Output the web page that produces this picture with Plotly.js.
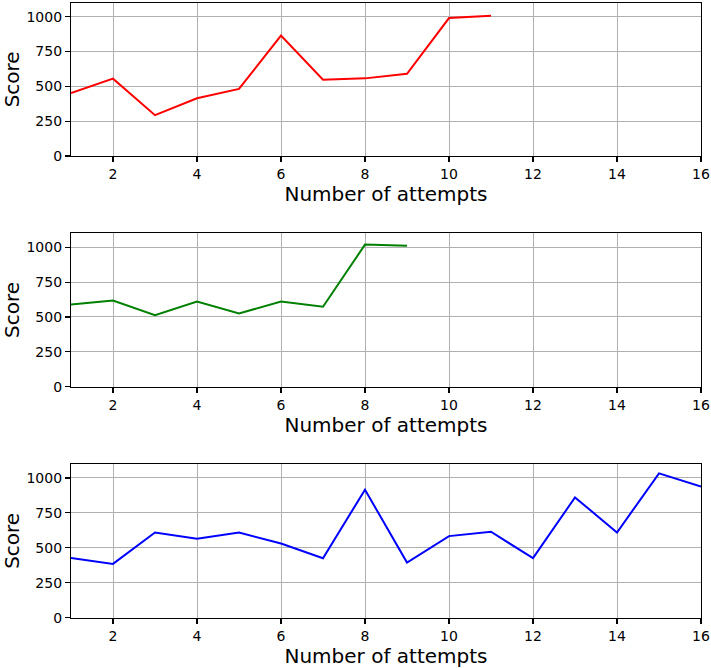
<!DOCTYPE html>
<html>
<head>
<meta charset="utf-8">
<script src="https://cdn.plot.ly/plotly-3.0.1.min.js"></script>
<style>html,body{margin:0;padding:0;background:#fff;}#chart{width:711px;height:668px;}</style>
</head>
<body>
<div id="chart"></div>
<script>
// Data
const attemptsRed = [1, 2, 3, 4, 5, 6, 7, 8, 9, 10, 11];
const scoresRed = [452, 555, 293, 414, 481, 864, 548, 557, 590, 990, 1007];

const attemptsGreen = [1, 2, 3, 4, 5, 6, 7, 8, 9];
const scoresGreen = [589, 618, 513, 611, 525, 611, 573, 1019, 1010];

const attemptsBlue = [1, 2, 3, 4, 5, 6, 7, 8, 9, 10, 11, 12, 13, 14, 15, 16];
const scoresBlue = [428, 385, 610, 565, 610, 531, 426, 916, 395, 584, 615, 426, 861, 610, 1033, 938];

const xTicks = [2, 4, 6, 8, 10, 12, 14, 16];
const yTicks = [0, 250, 500, 750, 1000];
const xTitle = "Number of attempts";
const yTitle = "Score";

const H = 668;
const FONT = "DejaVu Sans, sans-serif";

function line(x, y, color, xa, ya) {
  return {x: x, y: y, type: "scatter", mode: "lines", xaxis: xa, yaxis: ya,
          line: {color: color, width: 2}, hoverinfo: "skip", showlegend: false};
}

function xAxis(anchor) {
  return {
    anchor: anchor, domain: [0, 1], range: [1, 16], tickvals: xTicks,
    ticktext: xTicks.map(String),
    showgrid: true, gridcolor: "#b0b0b0", gridwidth: 1,
    showline: true, linecolor: "#000", linewidth: 1.1, mirror: true,
    ticks: "outside", ticklen: 5, tickwidth: 1.1, tickcolor: "#000",
    tickfont: {family: FONT, size: 14, color: "#000"},
    zeroline: false, automargin: false,
    title: {text: xTitle, font: {family: FONT, size: 20, color: "#000"}, standoff: 3}
  };
}
function yAxis(anchor, top, bottom) {
  return {
    anchor: anchor, domain: [1 - bottom / H, 1 - top / H], range: [0, 1100],
    tickvals: yTicks, ticktext: yTicks.map(String),
    showgrid: true, gridcolor: "#b0b0b0", gridwidth: 1,
    showline: true, linecolor: "#000", linewidth: 1.1, mirror: true,
    ticks: "outside", ticklen: 5, tickwidth: 1.1, tickcolor: "#000",
    tickfont: {family: FONT, size: 14, color: "#000"},
    zeroline: false, automargin: false,
    title: {text: yTitle, font: {family: FONT, size: 20, color: "#000"}, standoff: 10}
  };
}

const data = [
  line(attemptsRed, scoresRed, "#ff0000", "x", "y"),
  line(attemptsGreen, scoresGreen, "#008000", "x2", "y2"),
  line(attemptsBlue, scoresBlue, "#0000ff", "x3", "y3")
];

const layout = {
  width: 711, height: 668,
  margin: {l: 71, r: 10, t: 0, b: 0},
  paper_bgcolor: "#fff", plot_bgcolor: "#fff",
  font: {family: FONT, color: "#000"},
  showlegend: false,
  xaxis: xAxis("y"),
  yaxis: yAxis("x", 2.7, 156),
  xaxis2: xAxis("y2"),
  yaxis2: yAxis("x2", 233.3, 386.7),
  xaxis3: xAxis("y3"),
  yaxis3: yAxis("x3", 464, 617.7)
};

Plotly.newPlot("chart", data, layout, {displayModeBar: false, staticPlot: true});
</script>
</body>
</html>
